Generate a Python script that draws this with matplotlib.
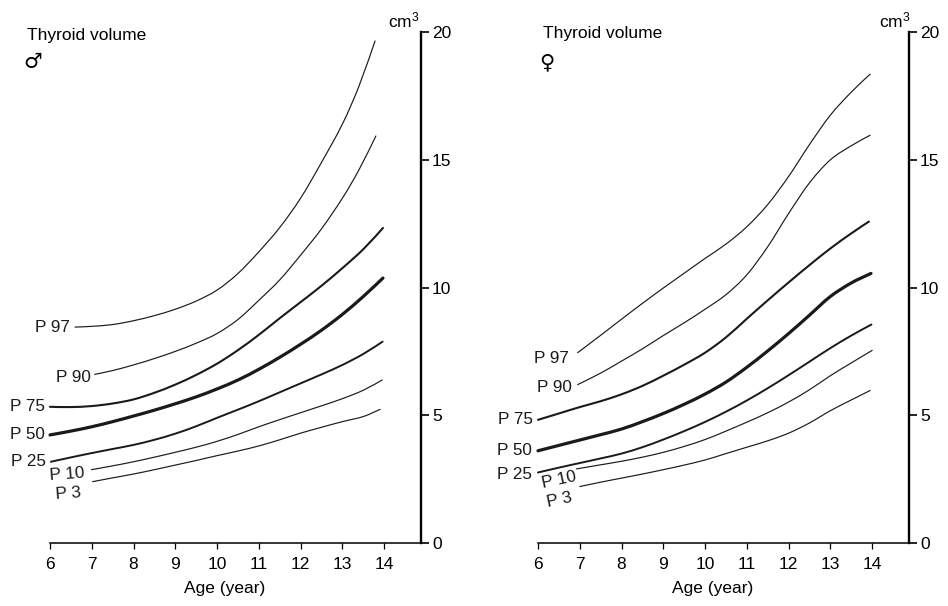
## Thyroid volume percentile curves for boys and girls aged 6-14,
## two panels with the volume scale on the right hand side.

import numpy as np
import matplotlib.pyplot as plt
from matplotlib.path import Path
from matplotlib.patches import PathPatch

plt.rcParams['font.family'] = ['Liberation Sans', 'DejaVu Sans']
plt.rcParams['mathtext.fontset'] = 'custom'
plt.rcParams['mathtext.rm'] = 'Liberation Sans'
plt.rcParams['mathtext.it'] = 'Liberation Sans:italic'

percentiles = ["P 97", "P 90", "P 75", "P 50", "P 25", "P 10", "P 3"]
xTicks = [6, 7, 8, 9, 10, 11, 12, 13, 14]
yTicks = [0, 5, 10, 15, 20]

# boys: age (year) and thyroid volume (cm3)
boyAge97 = [6.6, 7, 7.5, 8, 8.5, 9, 9.5, 10, 10.5, 11, 11.5, 12, 12.5, 13, 13.4, 13.78]
boyVol97 = [8.45, 8.48, 8.55, 8.7, 8.9, 9.15, 9.47, 9.9, 10.55, 11.4, 12.35, 13.5, 14.9, 16.4, 17.9, 19.65]
boyAge90 = [7.07, 7.5, 8, 8.5, 9, 9.5, 10, 10.5, 11, 11.5, 12, 12.5, 13, 13.4, 13.8]
boyVol90 = [6.6, 6.75, 6.97, 7.22, 7.5, 7.82, 8.2, 8.75, 9.5, 10.3, 11.27, 12.3, 13.5, 14.62, 15.93]
boyAge75 = [6, 6.5, 7, 7.5, 8, 8.5, 9, 9.5, 10, 10.5, 11, 11.5, 12, 12.5, 13, 13.5, 13.97]
boyVol75 = [5.33, 5.32, 5.36, 5.46, 5.62, 5.88, 6.2, 6.58, 7.02, 7.55, 8.15, 8.8, 9.43, 10.07, 10.76, 11.5, 12.33]
boyAge50 = [6, 6.5, 7, 7.5, 8, 8.5, 9, 9.5, 10, 10.5, 11, 11.5, 12, 12.5, 13, 13.5, 13.97]
boyVol50 = [4.23, 4.38, 4.55, 4.75, 4.97, 5.2, 5.45, 5.72, 6.03, 6.38, 6.8, 7.27, 7.78, 8.33, 8.95, 9.65, 10.37]
boyAge25 = [6.02, 6.5, 7, 7.5, 8, 8.5, 9, 9.5, 10, 10.5, 11, 11.5, 12, 12.5, 13, 13.5, 13.96]
boyVol25 = [3.18, 3.35, 3.52, 3.68, 3.84, 4.04, 4.28, 4.57, 4.9, 5.22, 5.55, 5.9, 6.25, 6.6, 6.97, 7.4, 7.88]
boyAge10 = [6.99, 7.5, 8, 8.5, 9, 9.5, 10, 10.5, 11, 11.5, 12, 12.5, 13, 13.5, 13.95]
boyVol10 = [2.87, 3.02, 3.18, 3.36, 3.55, 3.75, 3.98, 4.25, 4.55, 4.83, 5.1, 5.37, 5.65, 5.98, 6.38]
boyAge3 = [7.02, 7.5, 8, 8.5, 9, 9.5, 10, 10.5, 11, 11.5, 12, 12.5, 13, 13.5, 13.9]
boyVol3 = [2.4, 2.55, 2.7, 2.87, 3.05, 3.23, 3.42, 3.6, 3.8, 4.04, 4.3, 4.53, 4.75, 4.95, 5.23]

# girls: age (year) and thyroid volume (cm3)
girlAge97 = [6.95, 7.5, 8, 8.5, 9, 9.5, 10, 10.5, 11, 11.5, 12, 12.5, 13, 13.5, 13.95]
girlVol97 = [7.45, 8.13, 8.76, 9.38, 9.98, 10.56, 11.14, 11.7, 12.38, 13.25, 14.35, 15.6, 16.75, 17.65, 18.35]
girlAge90 = [6.95, 7.5, 8, 8.5, 9, 9.5, 10, 10.5, 11, 11.5, 12, 12.5, 13, 13.5, 13.95]
girlVol90 = [6.2, 6.65, 7.12, 7.6, 8.12, 8.62, 9.15, 9.72, 10.5, 11.6, 12.9, 14.1, 15.0, 15.55, 15.96]
girlAge75 = [6, 6.5, 7, 7.5, 8, 8.5, 9, 9.5, 10, 10.5, 11, 11.5, 12, 12.5, 13, 13.5, 13.92]
girlVol75 = [4.82, 5.07, 5.32, 5.55, 5.82, 6.15, 6.55, 6.98, 7.45, 8.05, 8.78, 9.5, 10.2, 10.88, 11.53, 12.12, 12.58]
girlAge50 = [6, 6.5, 7, 7.5, 8, 8.5, 9, 9.5, 10, 10.5, 11, 11.5, 12, 12.5, 13, 13.5, 13.97]
girlVol50 = [3.61, 3.82, 4.03, 4.24, 4.46, 4.75, 5.07, 5.43, 5.83, 6.3, 6.88, 7.52, 8.2, 8.92, 9.65, 10.18, 10.55]
girlAge25 = [6, 6.5, 7, 7.5, 8, 8.5, 9, 9.5, 10, 10.5, 11, 11.5, 12, 12.5, 13, 13.5, 13.98]
girlVol25 = [2.76, 2.95, 3.13, 3.31, 3.5, 3.75, 4.05, 4.38, 4.74, 5.14, 5.58, 6.06, 6.57, 7.1, 7.63, 8.12, 8.55]
girlAge10 = [6.92, 7.5, 8, 8.5, 9, 9.5, 10, 10.5, 11, 11.5, 12, 12.5, 13, 13.5, 14.0]
girlVol10 = [2.9, 3.06, 3.2, 3.36, 3.55, 3.78, 4.05, 4.38, 4.73, 5.1, 5.52, 6.0, 6.55, 7.05, 7.54]
girlAge3 = [7.0, 7.5, 8, 8.5, 9, 9.5, 10, 10.5, 11, 11.5, 12, 12.5, 13, 13.5, 13.95]
girlVol3 = [2.21, 2.38, 2.54, 2.7, 2.87, 3.05, 3.25, 3.5, 3.75, 4.0, 4.3, 4.7, 5.18, 5.6, 5.97]

boyCurves = [(boyAge97, boyVol97), (boyAge90, boyVol90), (boyAge75, boyVol75),
             (boyAge50, boyVol50), (boyAge25, boyVol25), (boyAge10, boyVol10),
             (boyAge3, boyVol3)]
girlCurves = [(girlAge97, girlVol97), (girlAge90, girlVol90), (girlAge75, girlVol75),
              (girlAge50, girlVol50), (girlAge25, girlVol25), (girlAge10, girlVol10),
              (girlAge3, girlVol3)]

# line weight per percentile, median heaviest
widths = [0.85, 0.85, 1.5, 2.3, 1.4, 0.85, 0.85]

# label nudges in pixels (dx, dy, rotation)
boyNudge = [(-5, 0, 0), (-4, -3, 0), (-5, 0, 0), (-5, 0, 0), (-5, 0, 0), (-6, -5, 4), (-11, -12, 4)]
girlNudge = [(-9, -6, 0), (-6, -3, 0), (-5, 0, 0), (-6, 0, 0), (-6, -2, 0), (1, -11, 12), (-6, -13, 12)]

W, H = 948, 606


def smoothPath(x, y):
    # cubic bezier through every point (catmull-rom tangents)
    p = np.column_stack([x, y]).astype(float)
    p = np.vstack([p[0], p, p[-1]])
    verts = [p[1]]
    codes = [Path.MOVETO]
    for i in range(1, len(p) - 2):
        c1 = p[i] + (p[i + 1] - p[i - 1]) / 6
        c2 = p[i + 1] - (p[i + 2] - p[i]) / 6
        verts += [c1, c2, p[i + 1]]
        codes += [Path.CURVE4] * 3
    return Path(verts, codes)


def makePanel(fig, left, curves, nudges):
    ax = fig.add_axes([left / W, 63 / H, 371 / W, 511 / H])
    ax.set_xlim(6, 14.88)
    ax.set_ylim(0, 20)
    for s in ['left', 'top']:
        ax.spines[s].set_visible(False)
    ax.spines['right'].set_linewidth(1.7)
    ax.spines['bottom'].set_linewidth(1.1)
    ax.yaxis.tick_right()
    ax.set_xticks(xTicks)
    ax.set_yticks(yTicks)
    ax.tick_params(axis='y', direction='out', length=6, width=1.2, pad=2, labelsize=12.5)
    ax.tick_params(axis='x', direction='out', length=4, width=0.9, pad=6, labelsize=12.5)
    ax.set_xlabel('Age (year)', fontsize=12.5)
    ax.xaxis.set_label_coords(0.47, -0.075)

    for (age, vol), lw, name, (dx, dy, rot) in zip(curves, widths, percentiles, nudges):
        ax.add_patch(PathPatch(smoothPath(age, vol), facecolor='none', edgecolor='#1a1a1a',
                               lw=lw, capstyle='round', joinstyle='round', clip_on=False))
        ax.annotate(name, (age[0], vol[0]), xytext=(dx, dy), textcoords='offset pixels',
                    ha='right', va='center', fontsize=12.3, rotation=rot, color='#1a1a1a')
    return ax


fig = plt.figure()
fig.set_size_inches(W / 100, H / 100)
fig.set_dpi(100)

axBoy = makePanel(fig, 50, boyCurves, boyNudge)
axGirl = makePanel(fig, 538, girlCurves, girlNudge)

fig.text(27 / W, 1 - 40 / H, 'Thyroid volume', fontsize=12.5, va='baseline', ha='left')
fig.text(543 / W, 1 - 38 / H, 'Thyroid volume', fontsize=12.5, va='baseline', ha='left')
fig.text(23 / W, 1 - 62 / H, '\u2642', fontsize=15, family='DejaVu Sans', va='center', ha='left')
fig.text(539 / W, 1 - 62 / H, '\u2640', fontsize=15, family='DejaVu Sans', va='center', ha='left')
fig.text(420 / W, 1 - 27 / H, 'cm$^3$', fontsize=12.5, va='baseline', ha='right')
fig.text(911 / W, 1 - 27 / H, 'cm$^3$', fontsize=12.5, va='baseline', ha='right')

plt.savefig("out.png", dpi=100)
